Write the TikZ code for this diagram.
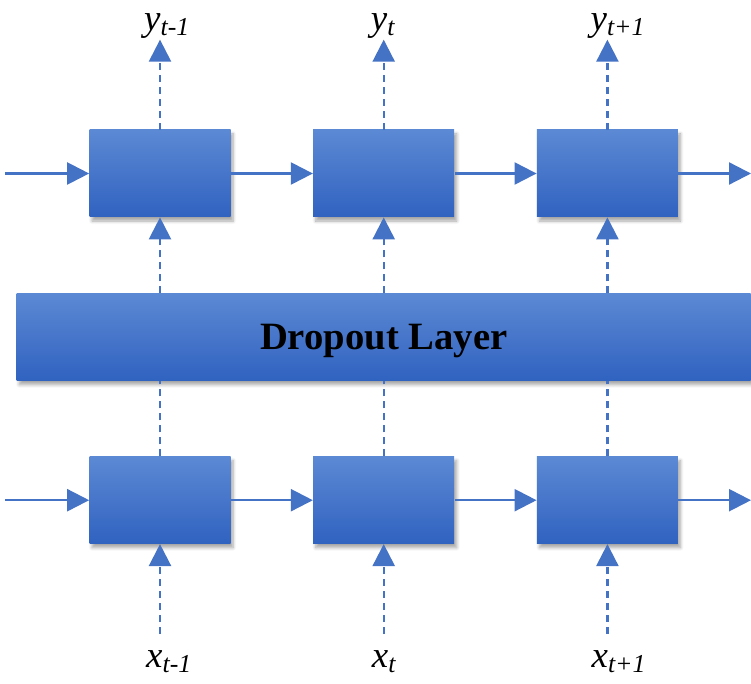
\documentclass[tikz,border=0pt]{standalone}
\usepackage{fontspec}
\setmainfont{Liberation Serif}
\usepackage{tikz}
\usetikzlibrary{arrows.meta,positioning,shadows.blur}
\definecolor{celltop}{RGB}{92,137,212}
\definecolor{cellbot}{RGB}{48,98,192}
\definecolor{wireblue}{RGB}{68,114,196}

\begin{document}
\begin{tikzpicture}[
  node distance=1.52cm and 1.64cm,
  cell/.style={rectangle, top color=celltop, bottom color=cellbot, minimum width=2.82cm, minimum height=1.74cm,
    blur shadow={shadow xshift=0.05cm, shadow yshift=-0.08cm, shadow blur steps=6, shadow opacity=35}},
  droplayer/.style={cell, minimum width=14.68cm, text depth=0pt, font=\fontsize{22}{26}\selectfont\bfseries},
  arrow/.style={-{Triangle[length=4.4mm, width=4.4mm]}, wireblue, line width=1.3pt},
  dasharrow/.style={arrow, dash pattern=on 1.4mm off 1mm},
  dashline/.style={wireblue, line width=1.3pt, dash pattern=on 1.4mm off 1mm},
  lbl/.style={inner sep=0.5pt, font=\fontsize{21}{24}\selectfont\itshape}
]
\useasboundingbox (0,0) rectangle (15.02,-13.66);

% upper row of cells
\node[cell] (top1) at (3.2,-3.47) {};
\node[cell, right=of top1] (top2) {};
\node[cell, right=of top2] (top3) {};

\node[droplayer, below=of top2] (drop) {Dropout Layer};

% lower row of cells
\node[cell, below=4.78cm of top1] (bot1) {};
\node[cell, right=of bot1] (bot2) {};
\node[cell, right=of bot2] (bot3) {};

% free ends
\coordinate (tin) at (top1 -| 0.1,0);
\coordinate (tout) at (top3 -| 15.02,0);
\coordinate (bin) at (bot1 -| 0.1,0);
\coordinate (bout) at (bot3 -| 15.02,0);
\coordinate (y1) at ([yshift=1.8cm]top1.north);
\coordinate (y2) at ([yshift=1.8cm]top2.north);
\coordinate (y3) at ([yshift=1.8cm]top3.north);
\coordinate (x1) at ([yshift=-1.8cm]bot1.south);
\coordinate (x2) at ([yshift=-1.8cm]bot2.south);
\coordinate (x3) at ([yshift=-1.8cm]bot3.south);

\node[lbl, anchor=south west, xshift=-0.34cm] (ylab1) at (y1) {y\textsubscript{t-1}};
\node[lbl, anchor=south west, xshift=-0.28cm] (ylab2) at (y2) {y\textsubscript{t}};
\node[lbl, anchor=south west, xshift=-0.36cm] (ylab3) at (y3) {y\textsubscript{t+1}};
\node[lbl, anchor=north west, xshift=-0.3cm, yshift=-0.3cm] (xlab1) at (x1) {x\textsubscript{t-1}};
\node[lbl, anchor=north west, xshift=-0.26cm, yshift=-0.3cm] (xlab2) at (x2) {x\textsubscript{t}};
\node[lbl, anchor=north west, xshift=-0.34cm, yshift=-0.3cm] (xlab3) at (x3) {x\textsubscript{t+1}};

\draw[arrow] (tin) -- (top1);
\draw[arrow] (top1) -- (top2);
\draw[arrow] (top2) -- (top3);
\draw[arrow] (top3) -- (tout);
\draw[arrow] (bin) -- (bot1);
\draw[arrow] (bot1) -- (bot2);
\draw[arrow] (bot2) -- (bot3);
\draw[arrow] (bot3) -- (bout);

\foreach \i in {1,2,3} {
  \draw[dasharrow] (top\i.north) -- (y\i);
  \draw[dasharrow] (drop.north -| top\i) -- (top\i.south);
  \draw[dashline] (bot\i.north) -- (drop.south -| bot\i);
  \draw[dasharrow] (x\i) -- (bot\i.south);
}
\end{tikzpicture}
\end{document}
